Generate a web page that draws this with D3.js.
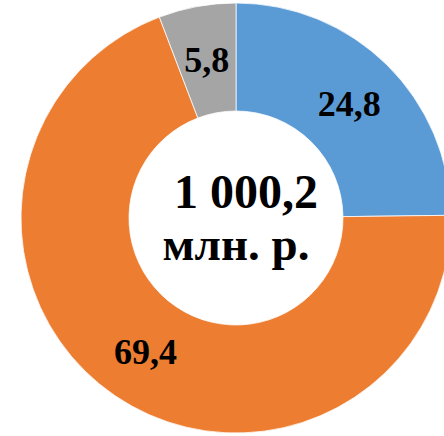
<!DOCTYPE html>
<html>
<head>
<meta charset="utf-8">
<script src="https://cdn.jsdelivr.net/npm/d3@7"></script>
<style>
  body { margin: 0; background: #fff; overflow: hidden; }
  text { font-family: "Liberation Serif", "Times New Roman", serif; font-weight: bold; }
</style>
</head>
<body>
<script>
var width = 444;
var height = 436;

// shares of the total, percent
var categories = ['a', 'b', 'c'];
var values = [24.8, 69.4, 5.8];
var labels = ['24,8', '69,4', '5,8'];
var colors = ['#5b9bd5', '#ed7d31', '#a5a5a5'];
var totalLines = ['1 000,2', 'млн. р.'];

var cx = 236, cy = 218;
var outerR = 215, innerR = 107;

var svg = d3.select('body').append('svg')
  .attr('width', width).attr('height', height);

var g = svg.append('g').attr('transform', 'translate(' + cx + ',' + cy + ')');

var pie = d3.pie().sort(null).value(function(d) { return d; });
var arc = d3.arc().innerRadius(innerR).outerRadius(outerR);

var arcs = pie(values);

g.selectAll('path').data(arcs).enter().append('path')
  .attr('d', arc)
  .attr('fill', function(d, i) { return colors[i]; })
  .attr('stroke', '#fff')
  .attr('stroke-width', 0.75);

g.selectAll('text.lbl').data(arcs).enter().append('text')
  .attr('class', 'lbl')
  .attr('transform', function(d) { return 'translate(' + arc.centroid(d) + ')'; })
  .attr('text-anchor', 'middle')
  .attr('dy', '0.35em')
  .style('font-size', '36px')
  .text(function(d, i) { return labels[i]; });

// total in the hole
g.append('text')
  .attr('x', 10).attr('y', -10)
  .attr('text-anchor', 'middle')
  .style('font-size', '48px')
  .text(totalLines[0]);
g.append('text')
  .attr('x', 0).attr('y', 42)
  .attr('text-anchor', 'middle')
  .style('font-size', '47px')
  .text(totalLines[1]);
</script>
</body>
</html>
